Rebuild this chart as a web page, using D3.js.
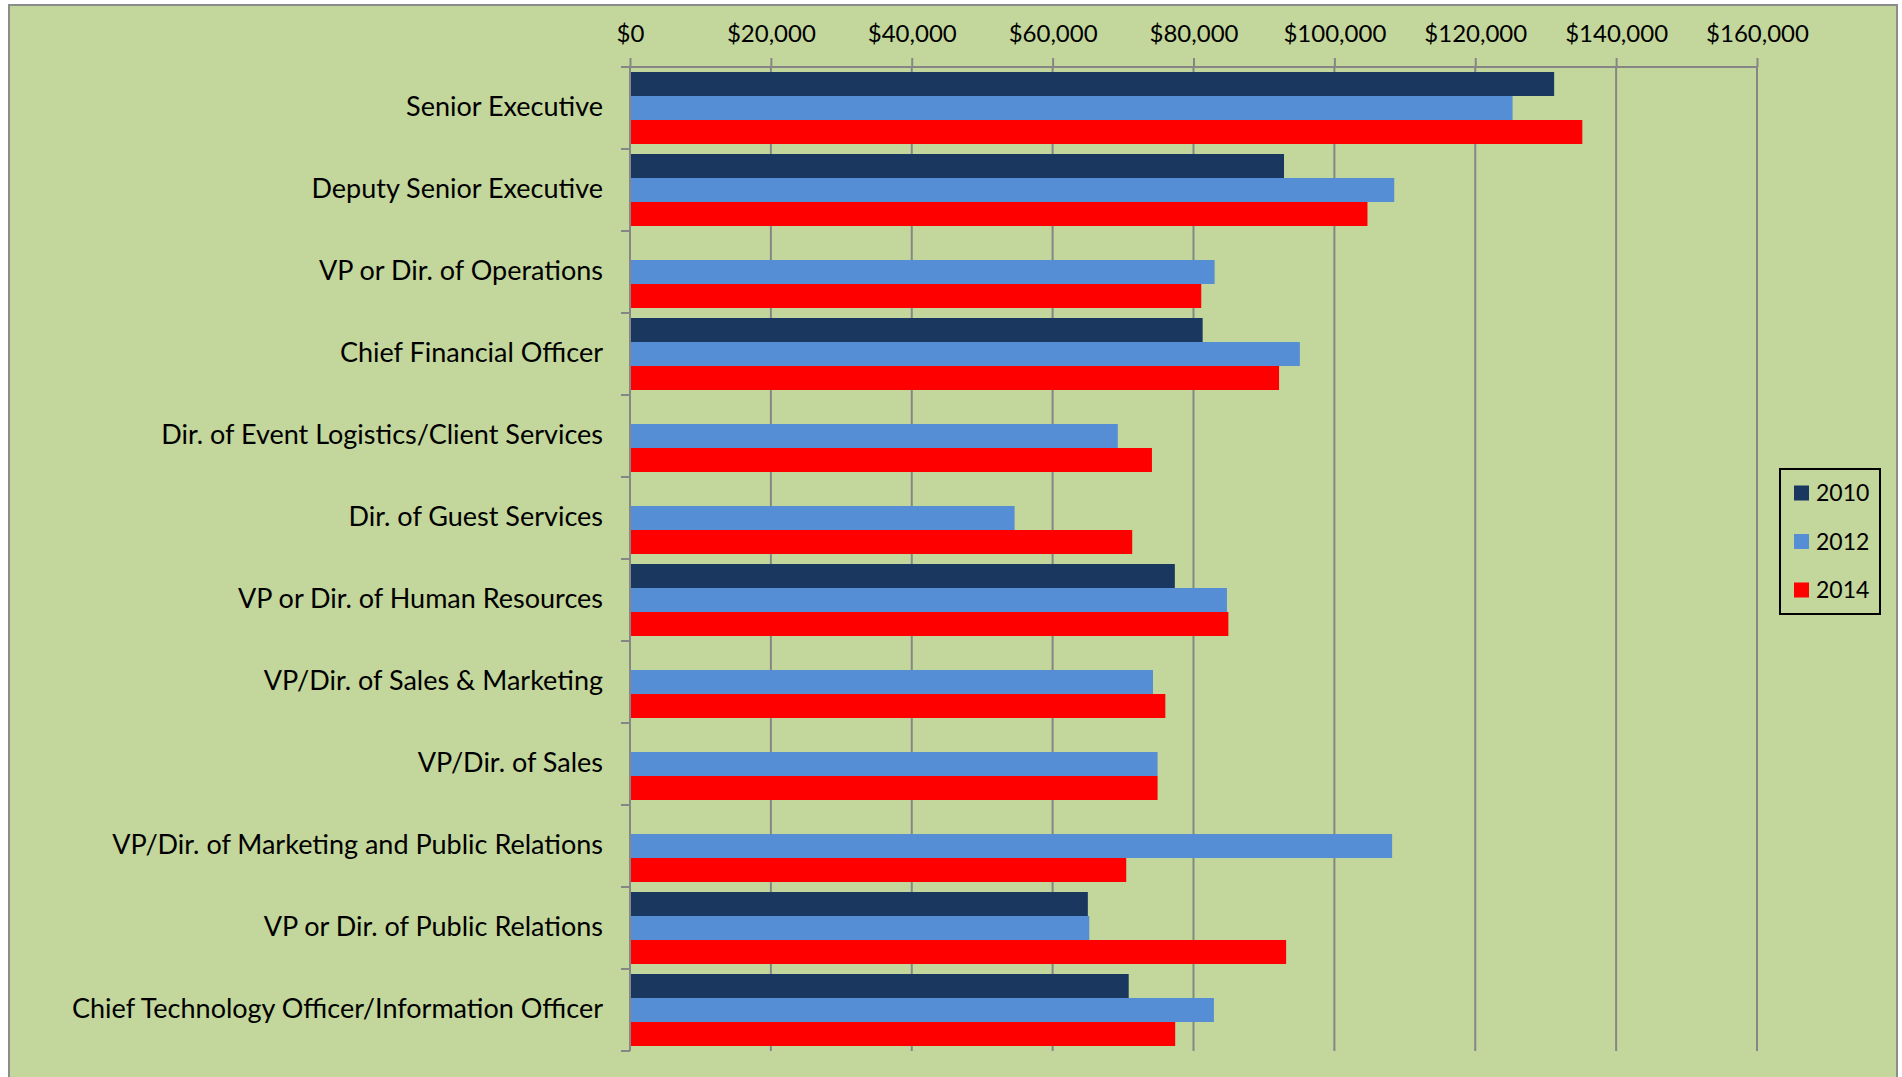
<!DOCTYPE html>
<html>
<head>
<meta charset="utf-8">
<script src="https://cdn.jsdelivr.net/npm/d3@7"></script>
<style>
  html, body { margin: 0; padding: 0; background: #ffffff; }
  svg { display: block; }
  text { font-family: Lato, "Open Sans", sans-serif; fill: #000; }
</style>
</head>
<body>
<svg id="chart" width="1902" height="1077"></svg>
<script>
const categories = [
  "Senior Executive",
  "Deputy Senior Executive",
  "VP or Dir. of Operations",
  "Chief Financial Officer",
  "Dir. of Event Logistics/Client Services",
  "Dir. of Guest Services",
  "VP or Dir. of Human Resources",
  "VP/Dir. of Sales & Marketing",
  "VP/Dir. of Sales",
  "VP/Dir. of Marketing and Public Relations",
  "VP or Dir. of Public Relations",
  "Chief Technology Officer/Information Officer"
];
const seriesNames = ["2010", "2012", "2014"];
const values2010 = [131200, 92850, null, 81300, null, null, 77350, null, null, null, 65000, 70800];
const values2012 = [125300, 108500, 83000, 95100, 69250, 54600, 84750, 74250, 74900, 108200, 65200, 82900];
const values2014 = [135200, 104700, 81100, 92150, 74100, 71300, 84950, 76000, 74900, 70450, 93150, 77400];
const xTicks = [0, 20000, 40000, 60000, 80000, 100000, 120000, 140000, 160000];
const colors = ["#1a3760", "#558ed5", "#ff0000"];

const seriesValues = [values2010, values2012, values2014];
const svg = d3.select("#chart");

// chart area background and frame
svg.append("rect").attr("x", 9).attr("y", 5).attr("width", 1888).attr("height", 1100)
  .attr("fill", "#c3d69b").attr("stroke", "#8c8c8c").attr("stroke-width", 2);

const x = d3.scaleLinear().domain([0, 160000]).range([630, 1757]);
const y = d3.scaleBand().domain(categories).range([67, 1051]).paddingInner(0.122).paddingOuter(0.061);
const ySub = d3.scaleBand().domain(seriesNames).range([0, y.bandwidth()]);
const step = y.step();
const y0 = 67;

const grid = "#868686";
// vertical gridlines
svg.append("g").selectAll("line").data(xTicks.slice(1)).join("line")
  .attr("x1", d => x(d)).attr("x2", d => x(d))
  .attr("y1", y0).attr("y2", 1051)
  .attr("stroke", grid).attr("stroke-width", 2);

// bars
const groups = svg.append("g").selectAll("g").data(categories).join("g")
  .attr("transform", c => `translate(0,${y(c)})`);
groups.each(function(c, i) {
  const g = d3.select(this);
  seriesNames.forEach((s, k) => {
    const v = seriesValues[k][i];
    if (v == null) return;
    g.append("rect")
      .attr("x", x(0)).attr("y", ySub(s))
      .attr("width", x(v) - x(0)).attr("height", ySub.bandwidth())
      .attr("fill", colors[k]);
  });
});

// top axis
const xAxis = d3.axisTop(x).tickValues(xTicks).tickSize(9).tickPadding(18)
  .tickFormat(d => "$" + d3.format(",")(d));
const ax = svg.append("g").attr("transform", `translate(0,${y0})`).call(xAxis);
ax.select(".domain").attr("stroke", grid).attr("stroke-width", 2).attr("d", `M${x(0)},0H${x(160000)}`);
ax.selectAll(".tick line").attr("stroke", grid).attr("stroke-width", 2);
ax.selectAll(".tick text").attr("font-size", 24).attr("font-family", "Lato, sans-serif").attr("fill", "#000").attr("dy", "0.1em");

// left axis line and boundary ticks
svg.append("line").attr("x1", x(0)).attr("x2", x(0)).attr("y1", y0).attr("y2", 1051)
  .attr("stroke", grid).attr("stroke-width", 2);
const bounds = d3.range(categories.length + 1).map(i => y0 + i * step);
svg.append("g").selectAll("line").data(bounds).join("line")
  .attr("x1", x(0) - 9).attr("x2", x(0)).attr("y1", d => d).attr("y2", d => d)
  .attr("stroke", grid).attr("stroke-width", 2);

// category labels
svg.append("g").selectAll("text").data(categories).join("text")
  .attr("x", 603).attr("y", c => y(c) + y.bandwidth() / 2 - 3)
  .attr("text-anchor", "end").attr("dominant-baseline", "central")
  .attr("font-size", 27).text(c => c);

// legend
const lg = svg.append("g");
lg.append("rect").attr("x", 1780).attr("y", 469).attr("width", 100).attr("height", 145)
  .attr("fill", "none").attr("stroke", "#000").attr("stroke-width", 2);
const legY = d3.scalePoint().domain(seriesNames).range([493, 590]);
seriesNames.forEach((s, k) => {
  lg.append("rect").attr("x", 1794).attr("y", legY(s) - 7.5).attr("width", 15).attr("height", 15).attr("fill", colors[k]);
  lg.append("text").attr("x", 1816).attr("y", legY(s) - 1).attr("dominant-baseline", "central")
    .attr("font-size", 23).text(s);
});
</script>
</body>
</html>
